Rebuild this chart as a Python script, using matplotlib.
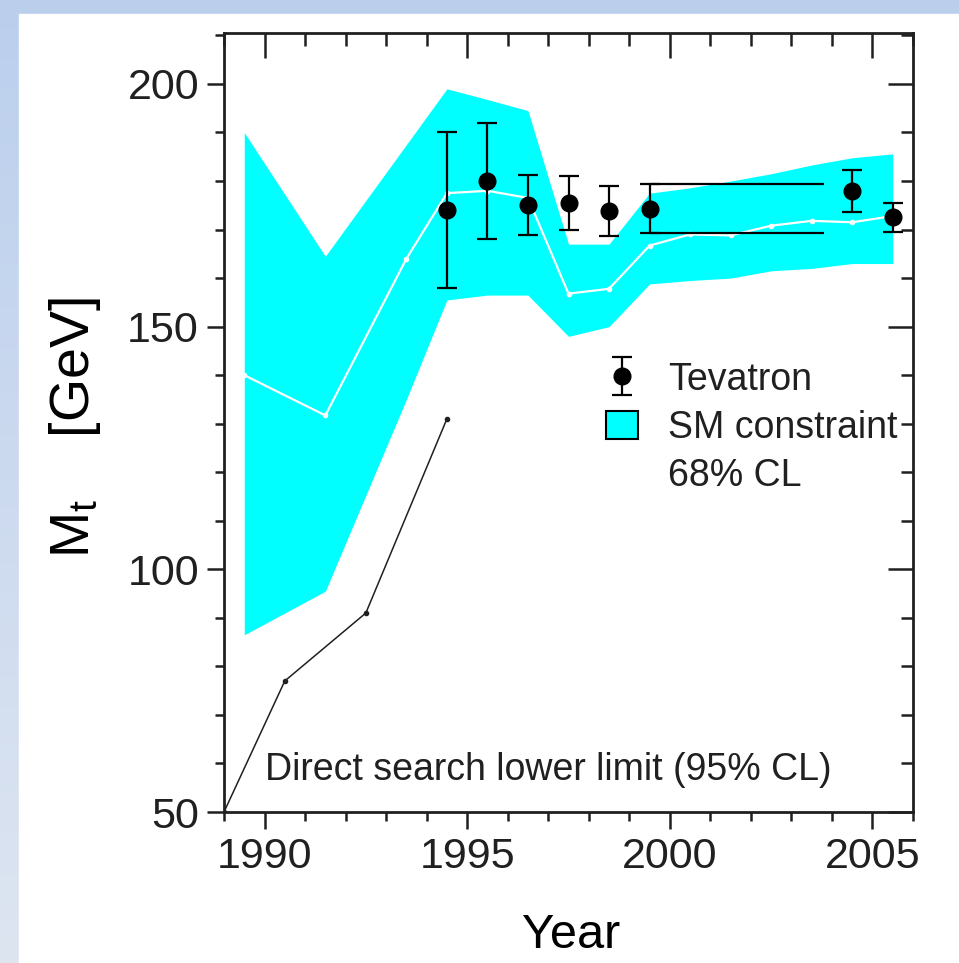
import numpy as np
import matplotlib.pyplot as plt
from matplotlib.patches import Patch, Rectangle
from matplotlib.lines import Line2D

plt.rcParams['font.family'] = ['Liberation Sans', 'DejaVu Sans']
plt.rcParams['mathtext.fontset'] = 'custom'
plt.rcParams['mathtext.rm'] = 'Liberation Sans'
plt.rcParams['text.color'] = '#202020'

# SM fit (68% CL band and central value)
sm_year = [1989.5, 1991.5, 1993.5, 1994.5, 1995.5, 1996.5, 1997.5, 1998.5,
           1999.5, 2000.5, 2001.5, 2002.5, 2003.5, 2004.5, 2005.5]
sm_upper = [190, 164.5, 187.5, 199, 196.8, 194.5, 167, 167,
            177.5, 178.6, 180, 181.5, 183.3, 184.8, 185.6]
sm_lower = [86.5, 95.5, 135, 155.5, 156.5, 156.5, 148, 150,
            158.8, 159.5, 160, 161.5, 162, 163, 163]
sm_central = [140, 131.7, 164, 177.5, 178, 176.5, 156.8, 157.8,
              166.7, 169, 168.8, 170.8, 171.8, 171.5, 172.8]

# Tevatron measurements
tev_year = [1994.5, 1995.5, 1996.5, 1997.5, 1998.5, 1999.5, 2004.5, 2005.5]
tev_mass = [174, 180, 175, 175.5, 173.8, 174.3, 178, 172.5]
tev_err = [16, 12, 6.2, 5.6, 5.2, 5.1, 4.3, 3.0]
tev_hold_until = 2003.8  # 1999 value kept until 2004

# direct search lower limit
ds_year = [1989.0, 1990.5, 1992.5, 1994.5]
ds_limit = [50, 77, 91, 131]

fig = plt.figure(figsize=(9.59, 9.63), dpi=100)

# slide background
bg = fig.add_axes([0, 0, 1, 1], zorder=-10)
grad = np.linspace(0, 1, 256)[:, None]
top_c = np.array([187, 207, 237]) / 255
bot_c = np.array([221, 229, 241]) / 255
img = top_c + (bot_c - top_c) * grad[:, :, None]
bg.imshow(img, extent=[0, 1, 0, 1], aspect='auto')
bg.add_patch(Rectangle((19 / 959, 0), 1, 1 - 14 / 963, color='white'))
bg.set_xlim(0, 1)
bg.set_ylim(0, 1)
bg.axis('off')

ax = fig.add_axes([224 / 959, 151 / 963, 689 / 959, 779 / 963])
ax.set_facecolor('none')

ax.fill_between(sm_year, sm_lower, sm_upper, color='#00FFFF', lw=0, zorder=1)
ax.plot(sm_year, sm_central, color='white', lw=1.6, marker='o', ms=3,
        zorder=2)
ax.plot(ds_year, ds_limit, color='#202020', lw=1.1, marker='o', ms=3,
        zorder=2)

tev = ax.errorbar(tev_year, tev_mass, yerr=tev_err, fmt='o', color='black',
                  ms=12, elinewidth=1.6, capsize=7, capthick=1.6, zorder=4)
ax.hlines([tev_mass[5] + tev_err[5], tev_mass[5] - tev_err[5]],
          tev_year[5], tev_hold_until, color='black', lw=1.6, zorder=4)

ax.text(1990.0, 56.6, 'Direct search lower limit (95% CL)', fontsize=27,
        va='baseline', ha='left')

handles = [tev, Patch(facecolor='#00FFFF', edgecolor='black', lw=1.5),
           Line2D([], [], ls='none')]
ax.legend(handles, ['Tevatron', 'SM constraint', '68% CL'], loc='upper left',
          bbox_to_anchor=(0.555, 0.578), frameon=False, fontsize=27,
          handlelength=0.85, handleheight=0.8, handletextpad=0.8,
          labelspacing=0.33, borderpad=0, borderaxespad=0)

ax.set_xlim(1989, 2006)
ax.set_ylim(50, 210.5)
ax.set_xticks([1990, 1995, 2000, 2005])
ax.set_xticks(np.arange(1989, 2007), minor=True)
ax.set_yticks([50, 100, 150, 200])
ax.set_yticks(np.arange(50, 211, 10), minor=True)

for s in ax.spines.values():
    s.set_linewidth(2)
    s.set_color('#202020')
ax.tick_params(which='both', direction='out', width=1.8, color='#202020',
               labelsize=31, labelcolor='#202020', pad=6)
ax.tick_params(which='major', length=12)
ax.tick_params(which='minor', length=6.5)

# top and right ticks point inward
top = ax.secondary_xaxis('top')
top.set_xticks([1990, 1995, 2000, 2005], labels=[])
top.set_xticks(np.arange(1989, 2007), minor=True)
right = ax.secondary_yaxis('right')
right.set_yticks([50, 100, 150, 200], labels=[])
right.set_yticks(np.arange(50, 211, 10), minor=True)
for sec in (top, right):
    sec.spines[:].set_visible(False)
    sec.tick_params(which='both', direction='in', width=1.8, color='#202020')
    sec.tick_params(which='major', length=18)
    sec.tick_params(which='minor', length=9)

ax.set_xlabel('Year', fontsize=35)
ax.xaxis.set_label_coords(0.504, -0.13)
ax.set_ylabel(r'$\mathregular{M_t}$    [GeV]', fontsize=40)
ax.yaxis.set_label_coords(-0.175, 0.493)

fig.savefig('out.png', dpi=100)
